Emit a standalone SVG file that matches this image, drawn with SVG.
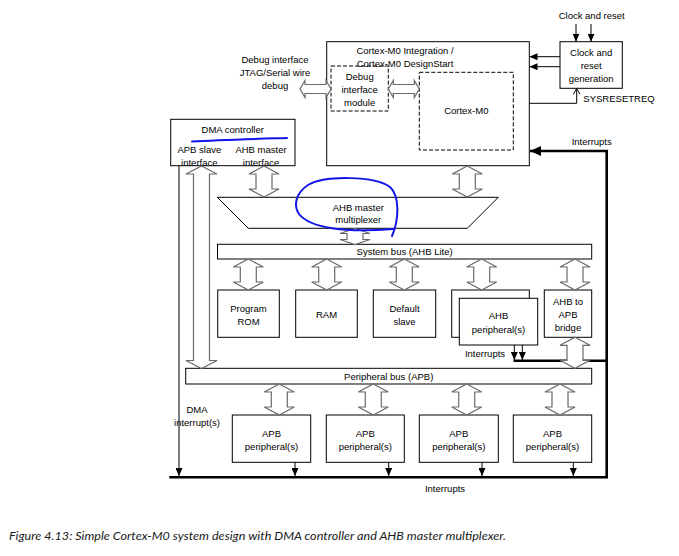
<svg xmlns="http://www.w3.org/2000/svg" width="679" height="556" viewBox="0 0 679 556">
<defs>
<style>
text{font-family:"Liberation Sans",Arial,sans-serif;font-size:9.5px;fill:#000;text-anchor:middle}
.box{fill:#fff;stroke:#000;stroke-width:1}
.dash{fill:#fff;stroke:#000;stroke-width:1;stroke-dasharray:4 2}
.dbl{fill:#fff;stroke:#6a6a6a;stroke-width:1.2;stroke-linejoin:miter}
.ln{fill:none;stroke:#000;stroke-width:1}
.thick{fill:none;stroke:#000;stroke-width:2.6}
.blue{fill:none;stroke:#1414e6;stroke-width:2;stroke-linecap:round}
.cap{font-family:Lato,"Open Sans",sans-serif;font-style:italic;font-size:12px;fill:#1a1a1a;text-anchor:start}
</style>
<marker id="arr" markerUnits="userSpaceOnUse" markerWidth="8" markerHeight="7" refX="8" refY="3.5" orient="auto"><path d="M0,0 L8,3.5 L0,7 z" fill="#000"/></marker>
<marker id="arrBig" markerUnits="userSpaceOnUse" markerWidth="11" markerHeight="10" refX="11" refY="5" orient="auto"><path d="M0,0 L11,5 L0,10 z" fill="#000"/></marker>
<marker id="open" markerUnits="userSpaceOnUse" markerWidth="7" markerHeight="7" refX="6" refY="3.5" orient="auto"><path d="M0,0 L6,3.5 L0,7" fill="none" stroke="#000" stroke-width="1"/></marker>
</defs>
<rect width="679" height="556" fill="#fff"/>

<g id="labels">
  <text x="591.7" y="19">Clock and reset</text>
  <text x="275" y="63.3">Debug interface</text>
  <text x="275" y="76">JTAG/Serial wire</text>
  <text x="275" y="89">debug</text>
  <text x="619" y="102.3">SYSRESETREQ</text>
  <text x="591.7" y="145">Interrupts</text>
  <text x="485" y="357.3">Interrupts</text>
  <text x="197" y="413.3">DMA</text>
  <text x="197" y="426.3">interrupt(s)</text>
  <text x="445" y="492.3">Interrupts</text>
</g>

<g id="clock-reset">
  <rect class="box" x="560" y="41.7" width="62.3" height="46.6"/>
  <text x="591.2" y="55.5">Clock and</text>
  <text x="591.2" y="68.5">reset</text>
  <text x="591.2" y="81.5">generation</text>
</g>

<g id="cortex-integration">
  <rect class="box" x="326.7" y="41.7" width="202.6" height="124"/>
  <text x="405" y="54.3">Cortex-M0 Integration /</text>
  <text x="405" y="66.5">Cortex-M0 DesignStart</text>
</g>
<g id="debug-module">
  <rect class="dash" x="331" y="66" width="57.3" height="45" fill-opacity="0"/>
  <text x="359.7" y="79.5">Debug</text>
  <text x="359.7" y="92.5">interface</text>
  <text x="359.7" y="105.5">module</text>
</g>
<g id="cortex-m0">
  <rect class="dash" x="419.3" y="72.3" width="94" height="77.7"/>
  <text x="466.3" y="114.3">Cortex-M0</text>
</g>

<g id="dma">
  <rect class="box" x="170.7" y="119.3" width="124.3" height="46.4"/>
  <text x="232.7" y="133.3">DMA controller</text>
  <text x="199.3" y="153.3">APB slave</text>
  <text x="199.3" y="166.3">interface</text>
  <text x="261" y="153.3">AHB master</text>
  <text x="261" y="166.3">interface</text>
</g>

<g id="ahb-mux">
  <polygon class="box" points="217.3,197.3 498.3,197.3 467.3,228.3 248.3,228.3"/>
  <text x="358.3" y="210.5">AHB master</text>
  <text x="358.3" y="222.5">multiplexer</text>
</g>

<g id="system-bus">
  <rect class="box" x="217.5" y="244.3" width="374.2" height="14.7"/>
  <text x="404.6" y="255.3">System bus (AHB Lite)</text>
</g>

<g id="program-rom">
  <rect class="box" x="217.7" y="290" width="61.6" height="47.3"/>
  <text x="248.5" y="312.3">Program</text>
  <text x="248.5" y="325.3">ROM</text>
</g>
<g id="ram">
  <rect class="box" x="295.7" y="290" width="61.6" height="47.3"/>
  <text x="326.5" y="318.3">RAM</text>
</g>
<g id="default-slave">
  <rect class="box" x="373.3" y="290" width="62.4" height="47.3"/>
  <text x="404.5" y="312.3">Default</text>
  <text x="404.5" y="325.3">slave</text>
</g>
<g id="ahb-peripheral">
  <rect class="box" x="451.7" y="290" width="77.6" height="47.3"/>
  <rect class="box" x="459.3" y="298.3" width="78.4" height="46.7"/>
  <text x="498.5" y="319.3">AHB</text>
  <text x="498.5" y="333.3">peripheral(s)</text>
</g>
<g id="ahb-apb-bridge">
  <rect class="box" x="544.3" y="290" width="47.4" height="47.3"/>
  <text x="568" y="305.3">AHB to</text>
  <text x="568" y="318.3">APB</text>
  <text x="568" y="331.3">bridge</text>
</g>

<g id="peripheral-bus">
  <rect class="box" x="185.7" y="368.3" width="406" height="15.7"/>
  <text x="388.7" y="379.5">Peripheral bus (APB)</text>
</g>

<g id="apb-1">
  <rect class="box" x="232.3" y="415" width="78.4" height="47.3"/>
  <text x="271.5" y="436.6">APB</text>
  <text x="271.5" y="450.3">peripheral(s)</text>
</g>
<g id="apb-2">
  <rect class="box" x="326.3" y="415" width="78" height="47.3"/>
  <text x="365.3" y="436.6">APB</text>
  <text x="365.3" y="450.3">peripheral(s)</text>
</g>
<g id="apb-3">
  <rect class="box" x="419.3" y="415" width="79" height="47.3"/>
  <text x="458.8" y="436.6">APB</text>
  <text x="458.8" y="450.3">peripheral(s)</text>
</g>
<g id="apb-4">
  <rect class="box" x="513.3" y="415" width="78.4" height="47.3"/>
  <text x="552.5" y="436.6">APB</text>
  <text x="552.5" y="450.3">peripheral(s)</text>
</g>

<g id="connectors">
  <line class="ln" x1="576" y1="24" x2="576" y2="41.7" marker-end="url(#arr)"/>
  <line class="ln" x1="591" y1="24" x2="591" y2="41.7" marker-end="url(#arr)"/>
  <line class="ln" x1="560" y1="56.7" x2="529.5" y2="56.7" marker-end="url(#arr)"/>
  <line class="ln" x1="560" y1="66.7" x2="529.5" y2="66.7" marker-end="url(#arr)"/>
  <polyline class="ln" points="529.5,103.3 576.7,103.3 576.7,88.5" marker-end="url(#open)"/>
  <polyline class="thick" points="169.3,477.3 606.7,477.3 606.7,151 530,151" marker-end="url(#arrBig)"/>
  <line class="thick" x1="513.5" y1="360.7" x2="606.7" y2="360.7"/>
  <line class="ln" x1="514.3" y1="345" x2="514.3" y2="360" marker-end="url(#arr)"/>
  <line class="ln" x1="522.3" y1="345" x2="522.3" y2="360" marker-end="url(#arr)"/>
  <line class="ln" x1="179" y1="165.7" x2="179" y2="476" marker-end="url(#arr)"/>
  <line class="ln" x1="295" y1="462.3" x2="295" y2="476" marker-end="url(#arr)"/>
  <line class="ln" x1="388.7" y1="462.3" x2="388.7" y2="476" marker-end="url(#arr)"/>
  <line class="ln" x1="482" y1="462.3" x2="482" y2="476" marker-end="url(#arr)"/>
  <line class="ln" x1="573.3" y1="462.3" x2="573.3" y2="476" marker-end="url(#arr)"/>
  <path class="dbl" d="M300,89 l5,-8.5 v4 h21 v-4 l5,8.5 l-5,8.5 v-4 h-21 v4 z"/>
  <path class="dbl" d="M388.3,89 l5,-8.5 v4 h21 v-4 l5,8.5 l-5,8.5 v-4 h-21 v4 z"/>
  <path class="dbl" d="M264,166 l15,8 h-7 v15 h7 l-15,8 l-15,-8 h7 v-15 h-7 z"/>
  <path class="dbl" d="M467.3,166 l15,8 h-7 v15 h7 l-15,8 l-15,-8 h7 v-15 h-7 z"/>
  <path class="dbl" d="M201.5,166 l15.5,8 h-7.5 v186.5 h7.5 l-15.5,8 l-15.5,-8 h7.5 v-186.5 h-7.5 z"/>
  <path class="dbl" d="M355,228.5 l15,5 h-7 v6 h7 l-15,5 l-15,-5 h7 v-6 h-7 z"/>
  <path class="dbl" d="M248.3,259 l15,8 h-7 v15 h7 l-15,8 l-15,-8 h7 v-15 h-7 z"/>
  <path class="dbl" d="M326.7,259 l15,8 h-7 v15 h7 l-15,8 l-15,-8 h7 v-15 h-7 z"/>
  <path class="dbl" d="M404.3,259 l15,8 h-7 v15 h7 l-15,8 l-15,-8 h7 v-15 h-7 z"/>
  <path class="dbl" d="M481.7,259 l15,8 h-7 v15 h7 l-15,8 l-15,-8 h7 v-15 h-7 z"/>
  <path class="dbl" d="M575,259 l15,8 h-7 v15 h7 l-15,8 l-15,-8 h7 v-15 h-7 z"/>
  <path class="dbl" d="M575,337.3 l15,8 h-7 v15 h7 l-15,8 l-15,-8 h7 v-15 h-7 z"/>
  <path class="dbl" d="M279.3,384 l15,8 h-7 v15 h7 l-15,8 l-15,-8 h7 v-15 h-7 z"/>
  <path class="dbl" d="M373.3,384 l15,8 h-7 v15 h7 l-15,8 l-15,-8 h7 v-15 h-7 z"/>
  <path class="dbl" d="M466.7,384 l15,8 h-7 v15 h7 l-15,8 l-15,-8 h7 v-15 h-7 z"/>
  <path class="dbl" d="M560,384 l15,8 h-7 v15 h7 l-15,8 l-15,-8 h7 v-15 h-7 z"/>
</g>

<g id="annotations">
  <path class="blue" d="M192,141.5 C220,140 255,139 287,138"/>
  <path class="blue" d="M392,236 C399,220 400,196 390,187 C375,176 325,175 308,185 C296,193 293,205 299,214 C310,228 345,233 393,229"/>
</g>

<text class="cap" x="9" y="540" textLength="497" lengthAdjust="spacingAndGlyphs">Figure 4.13: Simple Cortex-M0 system design with DMA controller and AHB master multiplexer.</text>
</svg>
